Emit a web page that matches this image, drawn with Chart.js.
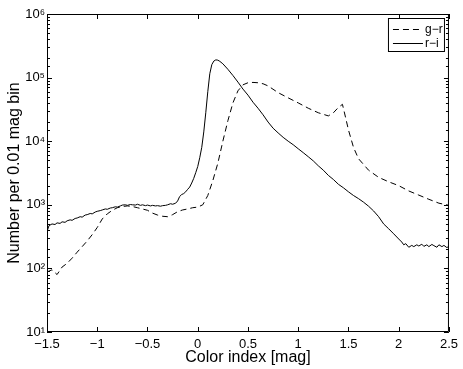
<!DOCTYPE html>
<html>
<head>
<meta charset="utf-8">
<script src="https://cdn.jsdelivr.net/npm/chart.js@4/dist/chart.umd.min.js"></script>
<style>
  html, body { margin: 0; padding: 0; background: #fff; }
  canvas { display: block; }
</style>
</head>
<body>
<canvas id="myChart" width="463" height="369"></canvas>
<script>
// g-r colour distribution (dashed)
const grX = [-1.5, -1.45, -1.4, -1.35, -1.3, -1.25, -1.2, -1.15, -1.1, -1.05,
    -1.0, -0.95, -0.9, -0.85, -0.8, -0.75, -0.7, -0.65, -0.6, -0.55,
    -0.5, -0.45, -0.4, -0.35, -0.3, -0.25, -0.2, -0.15, -0.1, -0.05,
    0.0, 0.05, 0.1, 0.15, 0.2, 0.25, 0.3, 0.35, 0.4, 0.45,
    0.5, 0.55, 0.6, 0.65, 0.7, 0.8, 0.9, 1.0, 1.1, 1.2,
    1.3, 1.35, 1.4, 1.44, 1.47, 1.5, 1.55, 1.6, 1.7, 1.8,
    1.9, 2.0, 2.1, 2.2, 2.3, 2.4, 2.5];
const grY = [88, 95, 80, 105, 120, 145, 180, 220, 270, 340,
    440, 600, 720, 820, 900, 940, 960, 940, 900, 860,
    820, 740, 690, 660, 650, 700, 780, 830, 860, 900,
    920, 1000, 1400, 2400, 4500, 10000, 21000, 40000, 62000, 77000,
    83000, 84000, 83000, 80000, 74000, 58000, 48000, 40000, 33000, 28000,
    25000, 28000, 34000, 38000, 24000, 15000, 8000, 5300, 3500, 2700,
    2300, 2000, 1650, 1420, 1220, 1060, 980];

// r-i colour distribution (solid)
const riX = [-1.5, -1.48, -1.45, -1.42, -1.4, -1.37, -1.35, -1.32, -1.3, -1.27,
    -1.25, -1.22, -1.2, -1.17, -1.15, -1.12, -1.1, -1.07, -1.05, -1.02,
    -1.0, -0.97, -0.95, -0.92, -0.9, -0.87, -0.85, -0.82, -0.8, -0.77,
    -0.75, -0.72, -0.7, -0.67, -0.65, -0.62, -0.6, -0.57, -0.55, -0.52,
    -0.5, -0.47, -0.45, -0.42, -0.4, -0.37, -0.35, -0.32, -0.3, -0.27,
    -0.25, -0.22, -0.2, -0.18, -0.16, -0.14, -0.12, -0.1, -0.08, -0.06,
    -0.04, -0.02, 0.0, 0.02, 0.04, 0.06, 0.08, 0.1, 0.12, 0.14,
    0.16, 0.18, 0.2, 0.22, 0.25, 0.3, 0.35, 0.4, 0.45, 0.5,
    0.55, 0.6, 0.65, 0.7, 0.75, 0.8, 0.85, 0.9, 0.95, 1.0,
    1.05, 1.1, 1.15, 1.2, 1.25, 1.3, 1.35, 1.4, 1.45, 1.5,
    1.55, 1.6, 1.65, 1.7, 1.75, 1.8, 1.85, 1.9, 1.95, 2.0,
    2.03, 2.05, 2.07, 2.1, 2.13, 2.15, 2.18, 2.2, 2.23, 2.25,
    2.28, 2.3, 2.33, 2.35, 2.38, 2.4, 2.43, 2.45, 2.48, 2.5];
const riY = [380, 470, 500, 490, 520, 510, 540, 530, 560, 580,
    570, 610, 620, 650, 640, 690, 700, 730, 720, 770,
    790, 810, 830, 860, 850, 890, 900, 930, 920, 960,
    990, 1000, 980, 1010, 1000, 990, 1020, 980, 1000, 970,
    990, 960, 980, 960, 970, 950, 970, 980, 1000, 1040,
    1020, 1060, 1150, 1350, 1450, 1500, 1600, 1750, 1900, 2200,
    2600, 3200, 4000, 5500, 8000, 14000, 28000, 60000, 115000, 160000,
    182000, 190000, 188000, 180000, 165000, 135000, 108000, 85000, 66000, 53000,
    41000, 33000, 26000, 20000, 16000, 13500, 11500, 10000, 8800, 7600,
    6600, 5700, 4900, 4100, 3500, 2900, 2500, 2100, 1850, 1600,
    1400, 1250, 1100, 950, 800, 650, 500, 420, 350, 290,
    260, 235, 245, 215, 230, 220, 235, 225, 240, 222,
    235, 220, 238, 228, 215, 235, 220, 230, 212, 225];

const seriesLabels = ["g\u2212r", "r\u2212i"];
const xTitle = "Color index [mag]";
const yTitle = "Number per 0.01 mag bin";
const supDigits = ["\u2070", "\u00b9", "\u00b2", "\u00b3", "\u2074", "\u2075", "\u2076"];

const fontFamily = "'Liberation Sans', Arial, Helvetica, sans-serif";

// box, inward ticks and legend, MATLAB style
const framePlugin = {
    id: "frame",
    afterDraw(chart) {
        const {ctx, chartArea: {left, right, top, bottom}, scales: {x, y}} = chart;
        ctx.save();
        ctx.strokeStyle = "#000";
        ctx.lineWidth = 1;
        ctx.beginPath();
        ctx.rect(left + 0.5, top + 0.5, right - left - 1, bottom - top - 1);
        x.ticks.forEach(t => {
            const px = Math.round(x.getPixelForValue(t.value)) + 0.5;
            ctx.moveTo(px, bottom);
            ctx.lineTo(px, bottom - 5);
            ctx.moveTo(px, top);
            ctx.lineTo(px, top + 5);
        });
        y.ticks.forEach(t => {
            const e = Math.log10(t.value);
            const len = Math.abs(e - Math.round(e)) < 1e-9 ? 5 : 3;
            const py = Math.round(y.getPixelForValue(t.value)) + 0.5;
            ctx.moveTo(left, py);
            ctx.lineTo(left + len, py);
            ctx.moveTo(right, py);
            ctx.lineTo(right - len, py);
        });
        ctx.stroke();

        // legend
        const bx = right - 61, by = top + 4, bw = 57, bh = 34;
        ctx.fillStyle = "#fff";
        ctx.fillRect(bx, by, bw, bh);
        ctx.strokeRect(bx + 0.5, by + 0.5, bw - 1, bh - 1);
        ctx.font = "12px " + fontFamily;
        ctx.textBaseline = "middle";
        ctx.textAlign = "left";
        chart.data.datasets.forEach((ds, i) => {
            const ly = by + 11.5 + i * 14;
            ctx.beginPath();
            ctx.setLineDash(ds.borderDash || []);
            ctx.moveTo(bx + 5, ly);
            ctx.lineTo(bx + 35, ly);
            ctx.stroke();
            ctx.setLineDash([]);
            ctx.fillStyle = "#000";
            ctx.fillText(ds.label, bx + 37, ly);
        });
        ctx.restore();
    }
};

const ctx = document.getElementById("myChart").getContext("2d");

new Chart(ctx, {
    type: "line",
    data: {
        datasets: [
            {
                label: seriesLabels[0],
                data: grX.map((v, i) => ({x: v, y: grY[i]})),
                borderColor: "#000",
                borderWidth: 1,
                borderDash: [6, 4],
                pointRadius: 0,
                fill: false,
                tension: 0
            },
            {
                label: seriesLabels[1],
                data: riX.map((v, i) => ({x: v, y: riY[i]})),
                borderColor: "#000",
                borderWidth: 1,
                pointRadius: 0,
                fill: false,
                tension: 0
            }
        ]
    },
    options: {
        responsive: false,
        animation: false,
        layout: {padding: {left: 0, right: 13, top: 14, bottom: 2}},
        plugins: {
            legend: {display: false},
            tooltip: {enabled: false}
        },
        scales: {
            x: {
                type: "linear",
                min: -1.5,
                max: 2.5,
                grid: {display: false, drawTicks: false},
                border: {display: false},
                ticks: {
                    stepSize: 0.5,
                    autoSkip: false,
                    maxRotation: 0,
                    padding: 5,
                    color: "#000",
                    font: {family: fontFamily, size: 13},
                    callback: v => String(v).replace("-", "\u2212")
                },
                title: {
                    display: true,
                    text: xTitle,
                    color: "#000",
                    font: {family: fontFamily, size: 16},
                    padding: {top: 0, bottom: 0}
                },
                afterFit: s => { s.height = 35; }
            },
            y: {
                type: "logarithmic",
                min: 10,
                max: 1e6,
                grid: {display: false, drawTicks: false},
                border: {display: false},
                ticks: {
                    autoSkip: false,
                    padding: 2,
                    color: "#000",
                    font: {family: fontFamily, size: 13},
                    callback: v => {
                        const e = Math.round(Math.log10(v));
                        return Math.abs(v - Math.pow(10, e)) < 1e-6 * v ? "10" + supDigits[e] : "";
                    }
                },
                title: {
                    display: true,
                    text: yTitle,
                    color: "#000",
                    font: {family: fontFamily, size: 16},
                    padding: {top: 5, bottom: 0}
                },
                afterFit: s => { s.width = 47; }
            }
        }
    },
    plugins: [framePlugin]
});
</script>
</body>
</html>
